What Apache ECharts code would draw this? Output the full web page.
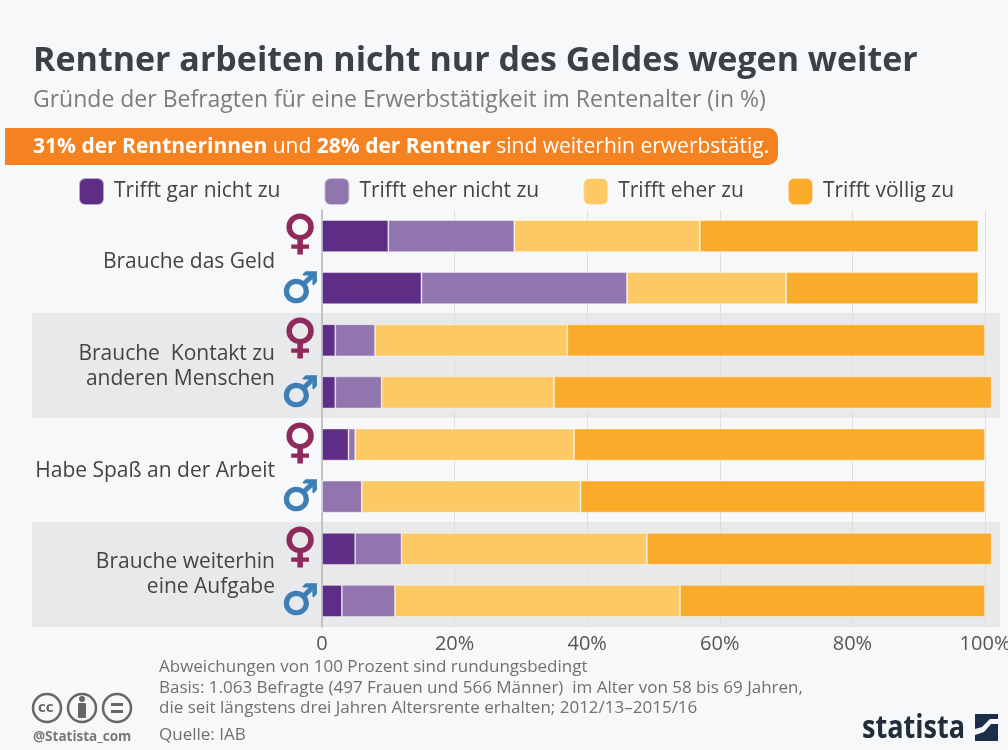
<!DOCTYPE html>
<html><head><meta charset="utf-8">
<style>html,body{margin:0;padding:0;background:#f7f8f9}#c{width:1008px;height:750px}</style>
<script src="https://cdn.jsdelivr.net/npm/echarts@6/dist/echarts.min.js"></script>
</head><body><div id="c"></div>
<script>
const rowLabels=['♀','♂','♀','♂','♀','♂','♀','♂'];
const groups=['Brauche das Geld','Brauche  Kontakt zu\nanderen Menschen','Habe Spaß an der Arbeit','Brauche weiterhin\neine Aufgabe'];
const legendNames=['Trifft gar nicht zu','Trifft eher nicht zu','Trifft eher zu','Trifft völlig zu'];
const garNicht=[10,15,2,2,4,0,5,3];
const eherNicht=[19,31,6,7,1,6,7,8];
const eherZu=[28,24,29,26,33,33,37,43];
const voellig=[42,29,63,66,62,61,52,46];
const xTicks=[0,20,40,60,80,100];
const colors=['#5e2d85','#9175ae','#fdc964','#fbab2a'];
const font='"Open Sans"';
const textEl=(x,y,text,size,fill,weight)=>({type:'text',x,y,z:10,style:{text,fontFamily:font,fontSize:size,fill,fontWeight:weight||'normal',verticalAlign:'middle'}});
const ring=(x)=>({type:'circle',shape:{cx:x,cy:708,r:14},z:10,style:{fill:'none',stroke:'#666',lineWidth:2.5}});
const chart=echarts.init(document.getElementById('c'),null,{renderer:'canvas'});
const mk=(i,d)=>({name:legendNames[i],type:'bar',stack:'a',data:d,barWidth:32,clip:false,z:3,
  itemStyle:{color:colors[i],borderColor:'rgba(255,255,255,0.55)',borderWidth:0.8}});
chart.setOption({
 animation:false,backgroundColor:'#f7f8f9',
 textStyle:{fontFamily:font},
 grid:{left:322,right:23,top:210,height:417,containLabel:false,outerBoundsMode:'none'},
 legend:{left:73,top:172,itemWidth:25,itemHeight:27,itemGap:43,icon:'roundRect',selectedMode:false,
   textStyle:{fontFamily:font,fontSize:21,color:'#444',padding:[0,0,0,5]},data:legendNames},
 xAxis:{type:'value',min:0,max:100,interval:20,position:'bottom',
   axisLine:{show:false},axisTick:{show:false},
   splitLine:{show:true,lineStyle:{color:'#dcdee0',width:1}},
   axisLabel:{fontFamily:font,fontSize:20,color:'#555',margin:7,hideOverlap:false,
     formatter:v=>xTicks.includes(v)&&v!==0?v+'%':'0'}},
 yAxis:[
  {type:'category',inverse:true,data:rowLabels,
   axisLine:{show:true,lineStyle:{color:'#b5b7ba',width:1.5}},axisTick:{show:false},splitLine:{show:false},
   axisLabel:{margin:2,interval:0,formatter:(v)=>v==='♀'?'{f|♀}':'{m|♂}',
     rich:{f:{fontFamily:'DejaVu Sans',fontWeight:'bold',fontSize:46,color:'#8e2a5c',textBorderColor:'#8e2a5c',textBorderWidth:1.5,width:40,align:'center'},
           m:{fontFamily:'DejaVu Sans',fontWeight:'bold',fontSize:42,color:'#3f7fb5',textBorderColor:'#3f7fb5',textBorderWidth:1.5,width:40,align:'center',padding:[5,0,0,0]}}}},
  {type:'category',inverse:true,data:groups,position:'left',offset:47,
   axisLine:{show:false},axisTick:{show:false},splitLine:{show:false},
   axisLabel:{interval:0,margin:0,fontFamily:font,fontSize:21,color:'#444',lineHeight:25,align:'right'}}
 ],
 series:[mk(0,garNicht),mk(1,eherNicht),mk(2,eherZu),mk(3,voellig)],
 graphic:[
  {type:'rect',z:-1,shape:{x:32,y:313,width:968,height:105},style:{fill:'#e7e9eb'}},
  {type:'rect',z:-1,shape:{x:32,y:522,width:968,height:105},style:{fill:'#e7e9eb'}},
  textEl(33,61,'Rentner arbeiten nicht nur des Geldes wegen weiter',34,'#3c4147','bold'),
  textEl(33,100,'Gründe der Befragten für eine Erwerbstätigkeit im Rentenalter (in %)',23,'#7a7c7e'),
  {type:'rect',z:5,shape:{x:5,y:128,width:773,height:37,r:[0,10,10,0]},style:{fill:'#f58220'}},
  {type:'text',x:33,y:147,z:10,style:{text:'{b|31% der Rentnerinnen} und {b|28% der Rentner} sind weiterhin erwerbstätig.',
    fontFamily:font,fontSize:21,fill:'#fff',verticalAlign:'middle',
    rich:{b:{fontFamily:font,fontSize:21,fontWeight:'bold',fill:'#fff'}}}},
  textEl(159,667,'Abweichungen von 100 Prozent sind rundungsbedingt',17,'#6f7072'),
  textEl(159,688,'Basis: 1.063 Befragte (497 Frauen und 566 Männer)  im Alter von 58 bis 69 Jahren,',17,'#6f7072'),
  textEl(159,708,'die seit längstens drei Jahren Altersrente erhalten; 2012/13–2015/16',17,'#6f7072'),
  textEl(159,735,'Quelle: IAB',17,'#6f7072'),
  textEl(33,737,'@Statista_com',13.5,'#777','bold'),
  ring(47),ring(82),ring(117),
  {type:'text',x:38,y:708,z:10,style:{text:'cc',fontFamily:font,fontSize:15,fontWeight:'bold',fill:'#666',verticalAlign:'middle'}},
  {type:'circle',z:10,shape:{cx:82,cy:699,r:3},style:{fill:'#666'}},
  {type:'rect',z:10,shape:{x:78,y:703,width:8,height:15,r:1},style:{fill:'#666'}},
  {type:'rect',z:10,shape:{x:111,y:703,width:12,height:3},style:{fill:'#666'}},
  {type:'rect',z:10,shape:{x:111,y:710,width:12,height:3},style:{fill:'#666'}},
  {type:'text',x:862,y:729,scaleX:0.82,z:10,style:{text:'statista',fontFamily:font,fontSize:33,fontWeight:'bold',fill:'#222d3a',verticalAlign:'middle'}},
  {type:'polygon',z:10,shape:{points:[[975,714],[998,714],[998,719],[990,719],[982,727],[975,729]]},style:{fill:'#1c2f4a'}},
  {type:'polygon',z:10,shape:{points:[[975,741],[975,735],[984,732],[991,724],[998,724],[998,741]]},style:{fill:'#1c2f4a'}}
 ]
});
</script></body></html>
